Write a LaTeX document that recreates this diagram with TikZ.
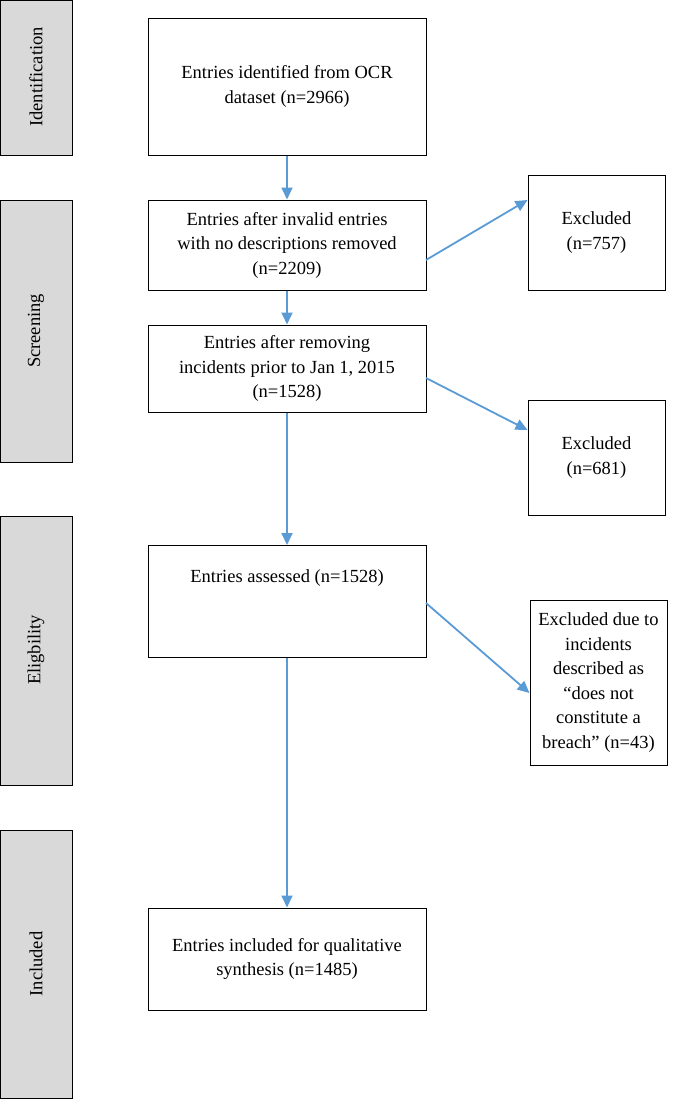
\documentclass[tikz,border=0pt]{standalone}
\usepackage{fontspec}
\setmainfont{Liberation Serif}
\usetikzlibrary{arrows.meta}
\definecolor{arr}{RGB}{91,155,213}
\definecolor{side}{RGB}{217,217,217}
\begin{document}
\begin{tikzpicture}[x=1pt,y=-1pt,
  box/.style={draw=black,line width=1pt,fill=white,align=center,font=\fontsize{18.5}{24.5}\selectfont,inner sep=2pt},
  sidebar/.style={draw=black,line width=1pt,fill=side},
  sidelabel/.style={rotate=90,font=\fontsize{18.5}{22}\selectfont},
  ar/.style={draw=arr,line width=1.8pt,-{Triangle[length=12pt,width=11pt]}}]
\useasboundingbox (0,0) rectangle (684,1100);
% side bars
\draw[sidebar] (0,0) rectangle (72,155);
\node[sidelabel] (l1) at (36,77) {Identification};
\draw[sidebar] (0,200) rectangle (72,462);
\node[sidelabel] (l2) at (36,331) {Screening};
\draw[sidebar] (0,516) rectangle (72,785);
\node[sidelabel] (l3) at (36,650) {Eligbility};
\draw[sidebar] (0,830) rectangle (72,1098);
\node[sidelabel] (l4) at (36,964) {Included};
% main boxes
\node[box,minimum width=278,minimum height=137] (b1) at (287,86.5) {Entries identified from OCR\\dataset (n=2966)};
\node[box,minimum width=278,minimum height=90] (b2) at (287,245) {Entries after invalid entries\\with no descriptions removed\\(n=2209)};
\node[box,minimum width=278,minimum height=87] (b3) at (287,368.5) {Entries after removing\\incidents prior to Jan 1, 2015\\(n=1528)};
\node[box,minimum width=278,minimum height=112,anchor=north] (b4) at (287,545) {};
\node[font=\fontsize{18.5}{23}\selectfont] (b4t) at (287,578) {Entries assessed (n=1528)};
\node[box,minimum width=278,minimum height=102] (b5) at (287,959) {Entries included for qualitative\\synthesis (n=1485)};
% right boxes
\node[box,minimum width=137,minimum height=115] (e1) at (596.5,232.5) {Excluded\\(n=757)};
\node[box,minimum width=137,minimum height=115] (e2) at (596.5,457.5) {Excluded\\(n=681)};
\node[box,minimum width=137,minimum height=165] (e3) at (598.5,682.5) {Excluded due to\\incidents\\described as\\“does not\\constitute a\\breach” (n=43)};
% arrows
\draw[ar] (b1.south) -- (b2.north);
\draw[ar] (b2.south) -- (b3.north);
\draw[ar] (b3.south) -- (b4.north);
\draw[ar] (b4.south) -- (b5.north);
\coordinate (s1) at (426,260);
\coordinate (s2) at (426,378);
\coordinate (s3) at (426,603);
\draw[ar] (s1) -- (e1.west |- 0,200);
\draw[ar] (s2) -- (e2.west |- 0,430);
\draw[ar] (s3) -- (e3.west |- 0,693);
\end{tikzpicture}
\end{document}
